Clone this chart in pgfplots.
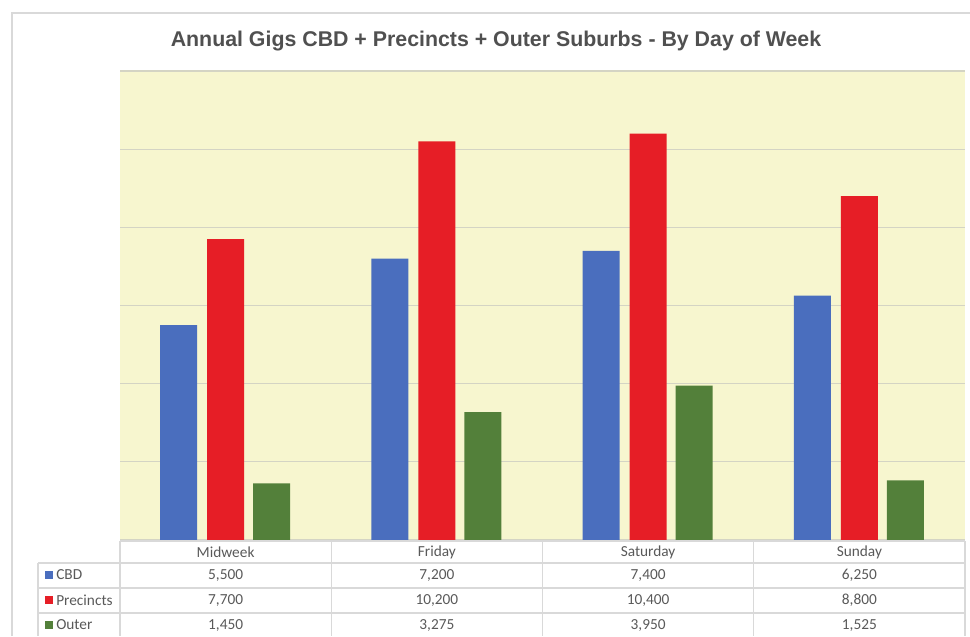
\documentclass[border=0pt]{standalone}
\usepackage{pgfplots}
\pgfplotsset{compat=1.18}
\usepackage{pgfplotstable}
\usepackage{fontspec}
\setmainfont{Carlito}
\newfontfamily\titlefont{Liberation Sans}
\definecolor{cbd}{HTML}{4A6EBE}
\definecolor{prec}{HTML}{E61E26}
\definecolor{outer}{HTML}{53803A}
\definecolor{bgy}{HTML}{F7F6CF}
\definecolor{gridc}{HTML}{D4D4C4}
\definecolor{linec}{HTML}{D9D9D9}
\definecolor{txt}{HTML}{595959}
\definecolor{ttl}{HTML}{505050}
\pgfkeys{/pgf/number format/.cd,1000 sep={,},assume math mode=true}
\pgfplotstableread{
cat CBD Precincts Outer
0 5500 7700 1450
1 7200 10200 3275
2 7400 10400 3950
3 6250 8800 1525
}\data
\begin{document}
\begin{tikzpicture}
\begin{scope}[x=0.75pt,y=0.75pt]
\useasboundingbox (0,0) rectangle (970,636);
\draw[linec, line width=1.1pt] (12,0) -- (12,623) -- (970,623);
\end{scope}
\begin{axis}[
  at={(90pt,72pt)}, anchor=south west,
  scale only axis, width=633.75pt, height=351.75pt,
  xmin=-0.5, xmax=3.5, ymin=0, ymax=12000,
  axis background/.style={fill=bgy},
  axis line style={draw=none},
  xtick=\empty,
  ytick={0,2000,...,12000}, yticklabels={},
  scaled y ticks=false,
  major tick length=0pt,
  ymajorgrids, grid style={gridc, line width=0.9pt},
  ybar, bar width=27.75pt,
  clip=false,
]
\addplot[fill=cbd, draw=none, bar shift=-35.25pt] table[x=cat,y=CBD]{\data};
\addplot[fill=prec, draw=none, bar shift=0pt] table[x=cat,y=Precincts]{\data};
\addplot[fill=outer, draw=none, bar shift=34.5pt] table[x=cat,y=Outer]{\data};
\end{axis}
\begin{scope}[x=0.75pt,y=0.75pt]
\node[text=ttl, font=\titlefont\bfseries\fontsize{16}{19}\selectfont] at (496,595) {Annual Gigs CBD + Precincts + Outer Suburbs - By Day of Week};
% table lines
\foreach \xx in {120,331.25,542.5,753.75,965} \draw[linec, line width=0.8pt] (\xx,95) -- (\xx,0);
\draw[linec, line width=0.8pt] (120,95) -- (965,95);
\foreach \yy in {73,48,23} \draw[linec, line width=0.8pt] (38,\yy) -- (965,\yy);
\draw[linec, line width=0.8pt] (38,73) -- (38,0);
% header
\foreach \i/\name in {0/Midweek,1/Friday,2/Saturday,3/Sunday}
  \node[text=txt, font=\fontsize{11.5}{13}\selectfont] at (225.6+211.25*\i,84) {\name};
% legend column
\foreach \yy/\col/\name in {61/cbd/CBD,36/prec/Precincts,11/outer/Outer}{
  \fill[\col] (45,\yy-4) rectangle (53,\yy+4);
  \node[text=txt, anchor=west, inner sep=0pt, font=\fontsize{11.5}{13}\selectfont] at (56,\yy) {\name};
}
% values
\foreach \i in {0,...,3}{
  \pgfplotstablegetelem{\i}{CBD}\of\data
  \node[text=txt, font=\fontsize{11.5}{13}\selectfont] at (225.6+211.25*\i,61) {\pgfmathprintnumber{\pgfplotsretval}};
  \pgfplotstablegetelem{\i}{Precincts}\of\data
  \node[text=txt, font=\fontsize{11.5}{13}\selectfont] at (225.6+211.25*\i,36) {\pgfmathprintnumber{\pgfplotsretval}};
  \pgfplotstablegetelem{\i}{Outer}\of\data
  \node[text=txt, font=\fontsize{11.5}{13}\selectfont] at (225.6+211.25*\i,11) {\pgfmathprintnumber{\pgfplotsretval}};
}
\end{scope}
\end{tikzpicture}
\end{document}
